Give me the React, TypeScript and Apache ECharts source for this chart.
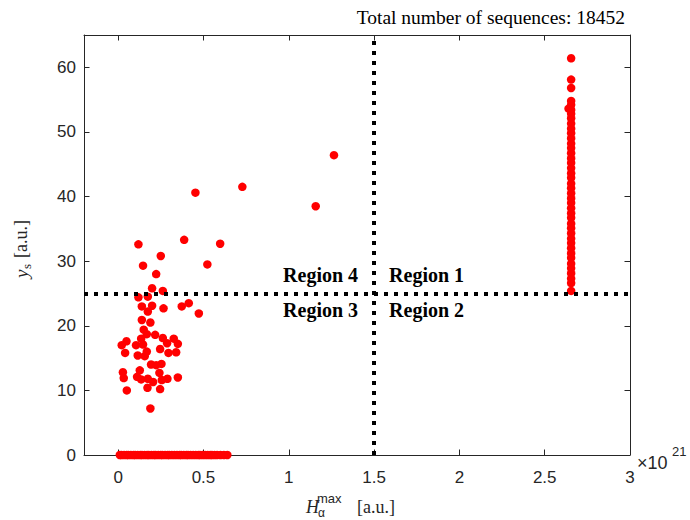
import { useEffect, useRef } from 'react';
import * as echarts from 'echarts';

const xTicks = [0, 0.5, 1, 1.5, 2, 2.5, 3];
const yTicks = [0, 10, 20, 30, 40, 50, 60];

// scattered sequences (x in units of 1e21)
const clusterX = [0.453, 0.728, 1.158, 1.265, 0.119, 0.387, 0.598, 0.25, 0.146, 0.523, 0.223, 0.199, 0.262, 0.119, 0.174,
  0.139, 0.199, 0.174, 0.266, 0.373, 0.414, 0.473, 0.139, 0.189, 0.15, 0.168, 0.217, 0.135, 0.262, 0.326,
  0.049, 0.021, 0.105, 0.146, 0.287, 0.35, 0.246, 0.041, 0.168, 0.295, 0.34, 0.115, 0.156, 0.193, 0.223,
  0.254, 0.028, 0.127, 0.242, 0.033, 0.111, 0.135, 0.174, 0.205, 0.256, 0.289, 0.35, 0.172, 0.246, 0.051, 0.189];
const clusterY = [40.6, 41.5, 38.5, 46.4, 32.6, 33.3, 32.7, 30.8, 29.3, 29.5, 28.0, 25.8, 25.4, 24.4, 24.5,
  23.0, 23.1, 22.2, 22.7, 23.0, 23.5, 21.9, 20.9, 20.5, 19.4, 18.7, 18.6, 18.0, 18.1, 18.0,
  17.6, 17.0, 17.0, 17.1, 17.3, 17.2, 16.4, 15.8, 16.0, 15.8, 15.9, 15.4, 15.3, 14.0, 13.9,
  14.1, 12.8, 13.1, 12.7, 11.9, 12.1, 11.7, 11.8, 11.3, 11.6, 11.8, 12.0, 10.4, 10.2, 10.0, 7.2];

// sequences with y = 0
const zeroRowX = [0.01, 0.02, 0.035, 0.05, 0.06, 0.075, 0.09, 0.1, 0.115, 0.13, 0.14, 0.155, 0.17, 0.18, 0.195,
  0.21, 0.22, 0.235, 0.25, 0.26, 0.275, 0.29, 0.3, 0.315, 0.33, 0.345, 0.36, 0.37, 0.385, 0.4, 0.41, 0.425,
  0.44, 0.455, 0.47, 0.48, 0.495, 0.51, 0.525, 0.54, 0.55, 0.565, 0.58, 0.6, 0.62, 0.64];

// saturated column
const columnX = 2.655;
const columnY = [25.4, 26.6, 27.3, 28.1, 28.9, 29.6, 30.5, 31.2, 32.0, 32.8, 33.5, 34.3, 35.1, 35.8, 36.7, 37.4,
  38.2, 39.0, 39.7, 40.5, 41.3, 42.0, 42.9, 43.6, 44.4, 45.2, 45.9, 46.7, 47.5, 48.2, 49.0, 49.8, 50.5, 51.3,
  52.1, 52.8, 53.4, 54.2, 54.8, 56.8, 58.1, 61.4];
const columnOffsetPoint = [2.64, 53.6];

const thresholdX = 1.5;
const thresholdY = 25;
const totalSequences = 18452;
const regionNames = ['Region 1', 'Region 2', 'Region 3', 'Region 4'];

const AX = '#262626';
const SANS = '"Liberation Sans", Arial, Helvetica, sans-serif';
const SERIF = '"Liberation Serif", "Times New Roman", serif';

export default function App() {
  const ref = useRef<HTMLDivElement>(null);
  useEffect(() => {
    document.body.style.margin = '0';
    const chart = echarts.init(ref.current!, null, { renderer: 'svg' });

    const data: number[][] = [];
    zeroRowX.forEach((x) => data.push([x, 0]));
    clusterX.forEach((x, i) => data.push([x, clusterY[i]]));
    columnY.forEach((y) => data.push([columnX, y]));
    data.push(columnOffsetPoint);

    const fmt = (v: number) => String(v);
    const axisCommon = {
      type: 'value' as const,
      splitLine: { show: false },
      axisLine: { show: true, onZero: false, lineStyle: { color: AX, width: 1 } },
      axisTick: { show: true, inside: true, length: 5.5, lineStyle: { color: AX, width: 1 } },
    };

    chart.setOption({
      animation: false,
      grid: { left: 84, right: 60, top: 35, bottom: 65 },
      xAxis: [
        {
          ...axisCommon,
          position: 'bottom',
          min: -0.2,
          max: 3,
          axisTick: { ...axisCommon.axisTick, customValues: xTicks },
          axisLabel: { customValues: xTicks, formatter: fmt, color: AX, fontFamily: SANS, fontSize: 17, margin: 14 },
        },
        {
          ...axisCommon,
          position: 'top',
          min: -0.2,
          max: 3,
          axisTick: { ...axisCommon.axisTick, customValues: xTicks },
          axisLabel: { show: false, customValues: xTicks },
        },
      ],
      yAxis: [
        {
          ...axisCommon,
          position: 'left',
          min: 0,
          max: 65,
          axisTick: { ...axisCommon.axisTick, customValues: yTicks },
          axisLabel: { customValues: yTicks, formatter: fmt, color: AX, fontFamily: SANS, fontSize: 17, margin: 8 },
        },
        {
          ...axisCommon,
          position: 'right',
          min: 0,
          max: 65,
          axisTick: { ...axisCommon.axisTick, customValues: yTicks },
          axisLabel: { show: false, customValues: yTicks },
        },
      ],
      series: [
        {
          type: 'scatter',
          xAxisIndex: 0,
          yAxisIndex: 0,
          symbol: 'circle',
          symbolSize: 8.5,
          clip: false,
          itemStyle: { color: '#ff0000', opacity: 1 },
          data,
          markLine: {
            silent: true,
            symbol: 'none',
            label: { show: false },
            lineStyle: { color: '#000', width: 4, type: [4, 6], cap: 'butt' },
            data: [{ xAxis: thresholdX }, { yAxis: thresholdY }],
          },
          z: 3,
        },
      ],
    });

    const c = chart.convertToPixel({ xAxisIndex: 0, yAxisIndex: 0 }, [thresholdX, thresholdY]) as number[];
    const cx = c[0];
    const cy = c[1];
    const regionStyle = { fontFamily: SERIF, fontWeight: 'bold', fontSize: 20, fill: '#000' };
    chart.setOption({
      graphic: [
        {
          type: 'text', x: 625, y: 17,
          style: { text: `Total number of sequences: ${totalSequences}`, fontFamily: SERIF, fontSize: 19.5, fill: '#000', align: 'right', verticalAlign: 'middle' },
        },
        { type: 'text', x: cx + 15, y: cy - 18, style: { ...regionStyle, text: regionNames[0], align: 'left', verticalAlign: 'middle' } },
        { type: 'text', x: cx + 15, y: cy + 17, style: { ...regionStyle, text: regionNames[1], align: 'left', verticalAlign: 'middle' } },
        { type: 'text', x: cx - 16, y: cy + 17, style: { ...regionStyle, text: regionNames[2], align: 'right', verticalAlign: 'middle' } },
        { type: 'text', x: cx - 16, y: cy - 18, style: { ...regionStyle, text: regionNames[3], align: 'right', verticalAlign: 'middle' } },
        // exponent
        { type: 'text', x: 637, y: 463, style: { text: '×10', fontFamily: SANS, fontSize: 18, fill: AX, align: 'left', verticalAlign: 'middle' } },
        { type: 'text', x: 672, y: 451, style: { text: '21', fontFamily: SANS, fontSize: 13, fill: AX, align: 'left', verticalAlign: 'middle' } },
        // x axis name
        { type: 'text', x: 306, y: 507, style: { text: 'H', fontFamily: SERIF, fontStyle: 'italic', fontSize: 18, fill: AX, align: 'left', verticalAlign: 'middle' } },
        { type: 'text', x: 318, y: 512.5, style: { text: 'α', fontFamily: SANS, fontSize: 12, fill: AX, align: 'left', verticalAlign: 'middle' } },
        { type: 'text', x: 317, y: 498.5, style: { text: 'max', fontFamily: SANS, fontSize: 13, fill: AX, align: 'left', verticalAlign: 'middle' } },
        { type: 'text', x: 357, y: 507, style: { text: '[a.u.]', fontFamily: SERIF, fontSize: 18, fill: AX, align: 'left', verticalAlign: 'middle' } },
        // y axis name (rotated)
        {
          type: 'group', x: 21, y: 278, rotation: Math.PI / 2,
          children: [
            { type: 'text', x: 0, y: 0, style: { text: 'y', fontFamily: SERIF, fontStyle: 'italic', fontSize: 19, fill: AX, align: 'left', verticalAlign: 'middle' } },
            { type: 'text', x: 9, y: 5, style: { text: 's', fontFamily: SERIF, fontSize: 13, fill: AX, align: 'left', verticalAlign: 'middle' } },
            { type: 'text', x: 20, y: 0, style: { text: '[a.u.]', fontFamily: SERIF, fontSize: 18, fill: AX, align: 'left', verticalAlign: 'middle' } },
          ],
        },
      ],
    });

    return () => chart.dispose();
  }, []);
  return <div ref={ref} style={{ width: 690, height: 520 }} />;
}
